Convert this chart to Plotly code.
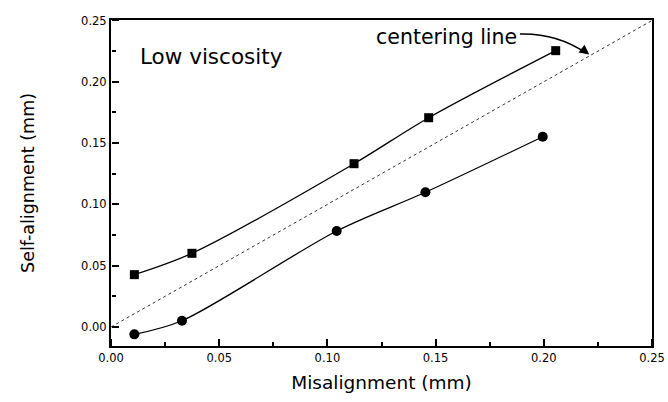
import plotly.graph_objects as go

# Data
sq_x = [0.0108, 0.0374, 0.1123, 0.1468, 0.2055]
sq_y = [0.0427, 0.0601, 0.1332, 0.1707, 0.2254]
ci_x = [0.0108, 0.0328, 0.1043, 0.1453, 0.1995]
ci_y = [-0.0060, 0.0051, 0.0783, 0.1099, 0.1552]
center_x = [0.0, 0.25]
center_y = [0.0, 0.25]

FONT = "DejaVu Sans"
X_RANGE = [0, 0.25]
Y_RANGE = [-0.0155, 0.2504]

fig = go.Figure()
fig.add_trace(go.Scatter(x=center_x, y=center_y, mode="lines", xaxis="x2", yaxis="y2",
                         line=dict(color="#333333", width=1, dash="dot"),
                         showlegend=False, hoverinfo="skip"))
fig.add_trace(go.Scatter(x=sq_x, y=sq_y, mode="lines+markers",
                         line=dict(color="black", width=1.3, shape="spline", smoothing=0.85),
                         marker=dict(symbol="square", size=9, color="black"),
                         showlegend=False))
fig.add_trace(go.Scatter(x=ci_x, y=ci_y, mode="lines+markers",
                         line=dict(color="black", width=1.3, shape="spline", smoothing=0.85),
                         marker=dict(symbol="circle", size=10, color="black"),
                         showlegend=False))

axis_common = dict(
    showline=True, linecolor="black", linewidth=2, mirror=True,
    showgrid=False, zeroline=False, automargin=False,
    ticks="", tick0=0, dtick=0.05, tickformat=".2f",
    tickfont=dict(family=FONT, size=11.5, color="black"),
)

# overlay axes used only to draw tick marks pointing into the plot
tick_axis = dict(
    showline=False, showgrid=False, zeroline=False, automargin=False,
    showticklabels=False, ticks="outside", ticklen=7, tickwidth=2, tickcolor="black",
    tick0=0, dtick=0.05,
    minor=dict(ticks="outside", ticklen=4, tickwidth=1.5, tickcolor="black", tick0=0, dtick=0.025),
)

fig.update_layout(
    xaxis=dict(range=X_RANGE, **axis_common,
               title=dict(text="Misalignment (mm)", font=dict(family=FONT, size=18.5, color="black"),
                          standoff=12)),
    yaxis=dict(range=Y_RANGE, **axis_common,
               title=dict(text="Self-alignment (mm)", font=dict(family=FONT, size=17.5, color="black"),
                          standoff=42)),
    xaxis2=dict(range=X_RANGE, overlaying="x", side="top", anchor="free", position=0, **tick_axis),
    yaxis2=dict(range=Y_RANGE, overlaying="y", side="right", anchor="free", position=0, **tick_axis),
)

fig.add_annotation(x=0.0126, y=0.221, xref="x", yref="y", text="Low viscosity",
                   showarrow=False, xanchor="left", yanchor="middle",
                   font=dict(family=FONT, size=21.5, color="black"))
fig.add_annotation(x=0.1885, y=0.2368, xref="x", yref="y", text="centering line",
                   showarrow=False, xanchor="right", yanchor="middle",
                   font=dict(family=FONT, size=20.5, color="black"))

# curved arrow body
p0 = (0.189, 0.239)
p1 = (0.2060, 0.2398)
p2 = (0.2195, 0.2235)
fig.add_shape(type="path", xref="x", yref="y",
              path=f"M {p0[0]},{p0[1]} Q {p1[0]},{p1[1]} {p2[0]},{p2[1]}",
              line=dict(color="black", width=1.5))
# arrow head
fig.add_annotation(x=0.2210, y=0.2222, xref="x", yref="y", text="",
                   showarrow=True, ax=-9, ay=-7, arrowhead=2, arrowsize=1.3,
                   arrowwidth=1.5, arrowcolor="black", standoff=0)

fig.update_layout(
    width=668, height=402,
    margin=dict(l=111, r=16, t=20, b=56),
    paper_bgcolor="white", plot_bgcolor="white",
    font=dict(family=FONT, color="black"),
)

fig.write_html("out.html")
